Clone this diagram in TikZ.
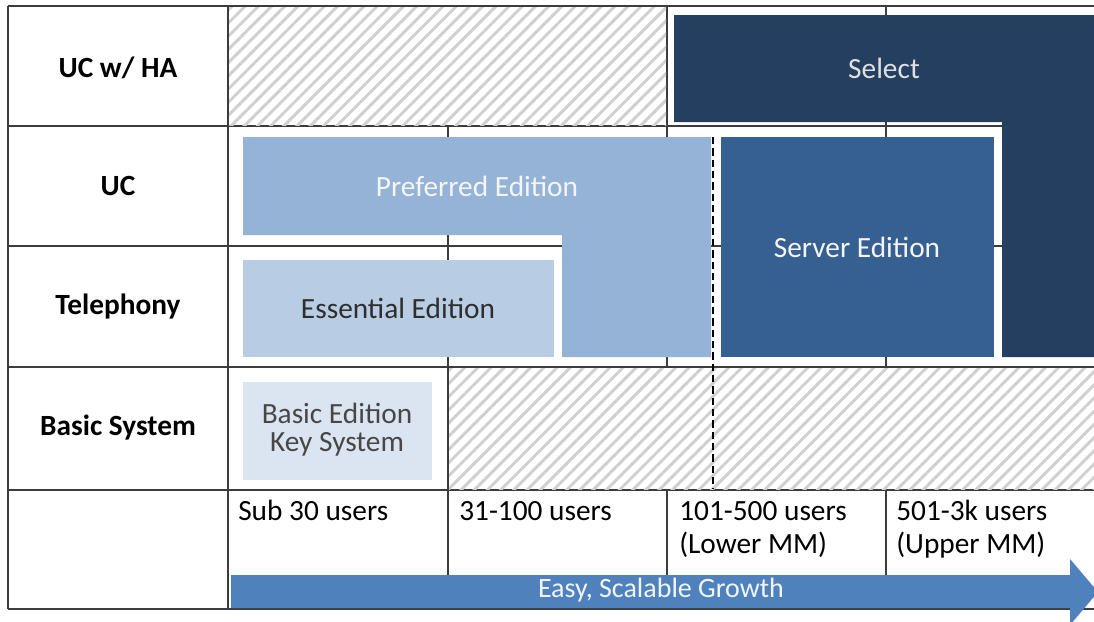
\documentclass[tikz,border=0pt]{standalone}
\usepackage{fontspec}
\setmainfont{Carlito}
\usetikzlibrary{patterns.meta}

\definecolor{selectblue}{HTML}{243F60}
\definecolor{serverblue}{HTML}{366092}
\definecolor{preferredblue}{HTML}{95B3D7}
\definecolor{essentialblue}{HTML}{B8CCE4}
\definecolor{basicblue}{HTML}{DBE5F1}
\definecolor{growthblue}{HTML}{4F81BD}
\definecolor{gridgray}{HTML}{3C3C3C}
\definecolor{hatchgray}{HTML}{D0D0D0}

\tikzset{
  gridline/.style={draw=gridgray, line width=1.6pt},
  hatchcell/.style={pattern={Lines[angle=45, distance=7pt, line width=2.2pt]}, pattern color=hatchgray},
  rowlabel/.style={font=\fontsize{22}{24}\selectfont\bfseries, text=black},
  collabel/.style={font=\fontsize{22}{24}\selectfont, text=black, anchor=base west, inner sep=0pt},
  edlabel/.style={font=\fontsize{22}{21}\selectfont, align=center, inner sep=0pt},
  splitline/.style={draw=black, line width=1.5pt, dash pattern=on 5.5pt off 3pt},
}

\begin{document}
\begin{tikzpicture}[x=0.75pt, y=-0.75pt]
\useasboundingbox (0,0) rectangle (1094,621);
\fill[white] (0,0) rectangle (1094,621);
\begin{scope}
\clip (0,0) rectangle (1094,621);

% table grid
\foreach \yy in {6,126,246,367,490,609}
  \draw[gridline] (8,\yy) -- (1100,\yy);
\foreach \xx in {8,228,448,667,886}
  \draw[gridline] (\xx,6) -- (\xx,609);

% cells that are not offered
\fill[white] (229,7) rectangle (666,125);
\fill[hatchcell] (229,7) rectangle (666,125);
\fill[white] (449,368) rectangle (1100,489);
\fill[hatchcell] (449,368) rectangle (1100,489);

% editions
\fill[selectblue] (674,15) -- (1100,15) -- (1100,357) -- (1002,357) -- (1002,122) -- (674,122) -- cycle;
\fill[preferredblue] (243,137) -- (711,137) -- (711,357) -- (562,357) -- (562,235) -- (243,235) -- cycle;
\fill[serverblue] (721,137) rectangle (994,357);
\fill[essentialblue] (243,260) rectangle (554,357);
\fill[basicblue] (243,382) rectangle (432,480);

% split between lower and upper mid-market
\coordinate (splittop) at (712.5,137);
\coordinate (splitbot) at (712.5,489);
\draw[splitline] (splittop) -- (splitbot);

% growth arrow
\fill[growthblue] (231,575) -- (1070,575) -- (1070,559) -- (1098,592) -- (1070,625) -- (1070,608) -- (231,608) -- cycle;
\end{scope}

% row labels
\node[rowlabel] (rha) at (118,68) {UC w/ HA};
\node[rowlabel] (ruc) at (118,186) {UC};
\node[rowlabel] (rtel) at (118,307) {Telephony};
\node[rowlabel] (rbas) at (118,428) {Basic System};

% edition labels
\node[edlabel, text=black!12] (lselect) at (884,68) {Select};
\node[edlabel, text=white!96!black] (lpref) at (477,186) {Preferred Edition};
\node[edlabel, text=white!96!black] (lserver) at (857,247) {Server Edition};
\node[edlabel, text=black!82] (lessential) at (398,308) {Essential Edition};
\node[edlabel, text=black!72] (lbasic) at (337,430) {Basic Edition\\Key System};

% column labels
\node[collabel] (c1) at (238,520) {Sub 30 users};
\node[collabel] (c2) at (459,520) {31-100 users};
\node[collabel] (c3) at (679,520) {101-500 users};
\node[collabel] (c3b) at (679,553) {(Lower MM)};
\node[collabel] (c4) at (896,520) {501-3k users};
\node[collabel] (c4b) at (896,553) {(Upper MM)};

\node[font=\fontsize{21}{23}\selectfont, text=white!92!growthblue, inner sep=0pt] (growth) at (661,590) {Easy, Scalable Growth};
\end{tikzpicture}
\end{document}
